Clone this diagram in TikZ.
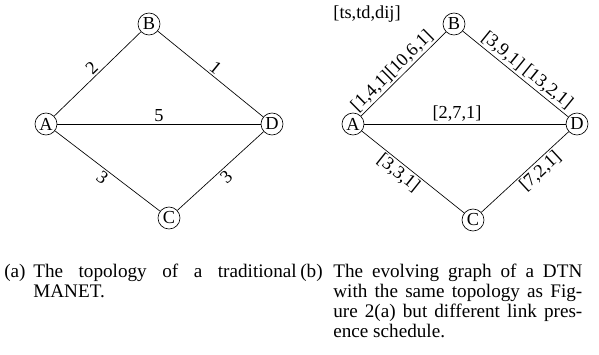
\documentclass[tikz,border=0pt]{standalone}
\usepackage{fontspec}
\setmainfont{Liberation Serif}
\usepackage{tikz}
\usetikzlibrary{arrows.meta,positioning}

\begin{document}
\begin{tikzpicture}[
  x=0.6pt,y=-0.6pt,
  font=\fontsize{11}{12}\selectfont,
  vertex/.style={draw,circle,inner sep=0pt,minimum size=13.2pt,fill=white},
  link/.style={draw,thin},
  wlabel/.style={sloped,inner sep=1.2pt},
  captext/.style={align=justify,inner sep=0pt,anchor=base west,font=\fontsize{11.5}{12}\selectfont}
]
\useasboundingbox (0,0) rectangle (599,354);
% (a) traditional MANET
\node[vertex] (a1) at (46,124) {A};
\node[vertex] (b1) at (149,24) {B};
\node[vertex] (c1) at (169,218) {C};
\node[vertex] (d1) at (272,124) {D};
\draw[link] (a1) -- node[wlabel,above] {2} (b1);
\draw[link] (b1) -- node[wlabel,above] {1} (d1);
\draw[link] (a1) -- node[wlabel,above] {5} (d1);
\draw[link] (a1) -- node[wlabel,below] {3} (c1);
\draw[link] (c1) -- node[wlabel,below] {3} (d1);
% (b) evolving graph of a DTN
\node[vertex] (a2) at (353,124) {A};
\node[vertex] (b2) at (454,24) {B};
\node[vertex] (c2) at (473,220) {C};
\node[vertex] (d2) at (577,124) {D};
\node[inner sep=0pt] (legend) at (367,14) {[ts,td,dij]};
\draw[link] (a2) -- node[wlabel,above,pos=0.45] {[1,4,1][10,6,1]} (b2);
\draw[link] (b2) -- node[wlabel,above,pos=0.55] {[3,9,1] [13,2,1]} (d2);
\draw[link] (a2) -- node[wlabel,above,pos=0.46] {[2,7,1]} (d2);
\draw[link] (a2) -- node[wlabel,below,pos=0.42] {[3,3,1]} (c2);
\draw[link] (c2) -- node[wlabel,below,pos=0.6] {[7,2,1]} (d2);
% captions
\node[captext] (capa) at (4,277) {(a)};
\node[captext,text width=158pt] (capatext) at (33,277) {The topology of a traditional\linebreak MANET.};
\node[captext] (capb) at (300,277) {(b)};
\node[captext,text width=149.4pt] (capbtext) at (333,277) {The evolving graph of a DTN with the same topology as Fig-\linebreak ure 2(a) but different link pres-\linebreak ence schedule.};
\end{tikzpicture}
\end{document}
